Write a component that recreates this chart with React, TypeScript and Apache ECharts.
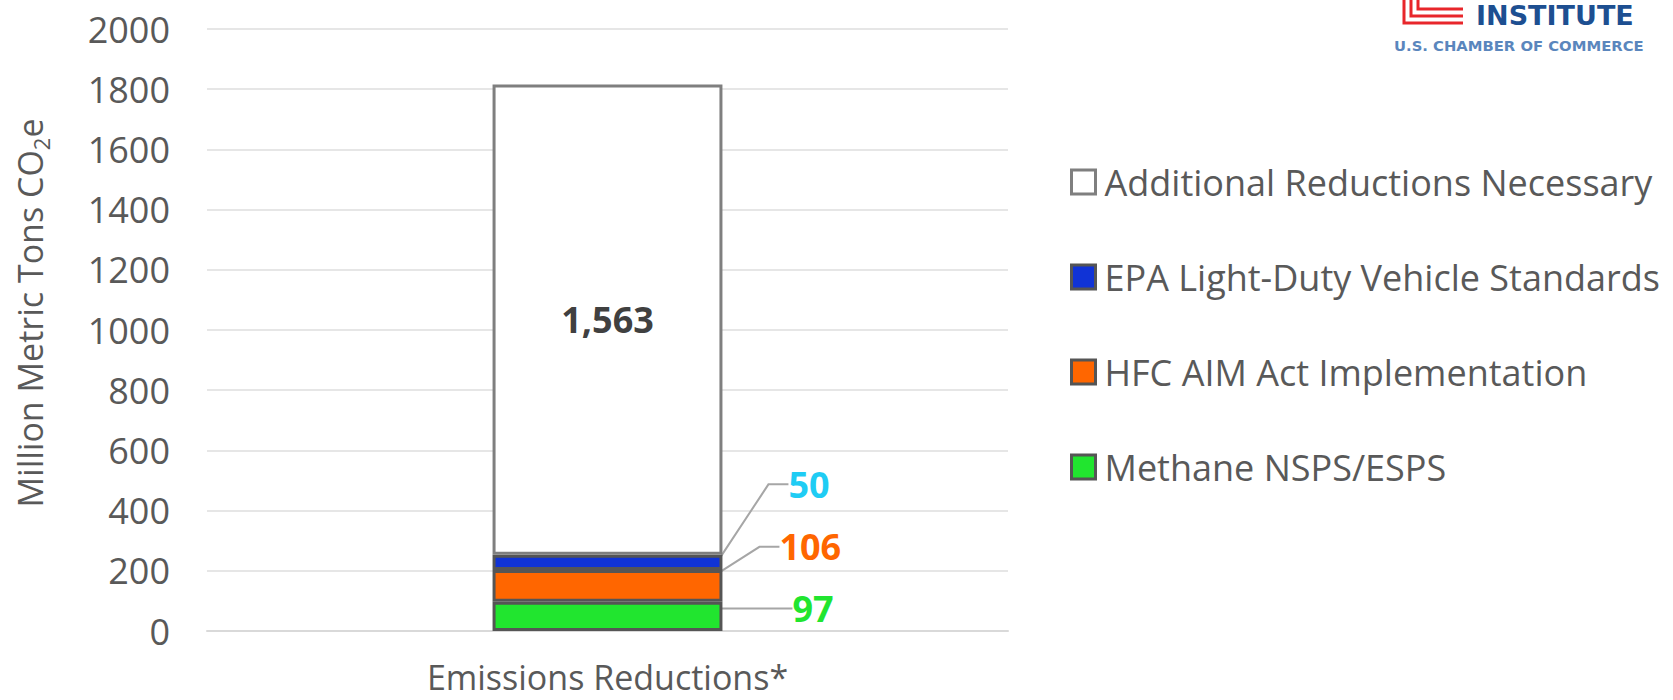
import React, { useEffect, useRef } from 'react';
import * as echarts from 'echarts';

const categories = ['Emissions Reductions*'];
const seriesNames = [
  'Methane NSPS/ESPS',
  'HFC AIM Act Implementation',
  'EPA Light-Duty Vehicle Standards',
  'Additional Reductions Necessary',
];
const methane = [97];
const hfc = [106];
const epa = [50];
const additional = [1563];
const legendOrder = [
  'Additional Reductions Necessary',
  'EPA Light-Duty Vehicle Standards',
  'HFC AIM Act Implementation',
  'Methane NSPS/ESPS',
];
const yMin = 0;
const yMax = 2000;
const yInterval = 200;

const FONT = "'Open Sans', sans-serif";
const GREY = '#595959';

export default function App() {
  const ref = useRef<HTMLDivElement>(null);

  useEffect(() => {
    if (!ref.current) return;
    const chart = echarts.init(ref.current, undefined, { renderer: 'svg' });

    const lineStyle = { color: '#A6A6A6', width: 2 };
    const smallLabel = (color: string) => ({
      show: true,
      position: 'right',
      color,
      fontSize: 36,
      fontWeight: 'bold',
      fontFamily: FONT,
    });

    const option: any = {
      animation: false,
      backgroundColor: '#ffffff',
      grid: { left: 207, right: 665, top: 29, bottom: 69, containLabel: false },
      legend: {
        orient: 'vertical',
        left: 1070,
        top: 164,
        padding: 0,
        itemWidth: 24,
        itemHeight: 24,
        itemGap: 59,
        icon: 'rect',
        data: legendOrder,
        itemStyle: { borderWidth: 3 },
        textStyle: { fontSize: 36, color: GREY, fontFamily: FONT, padding: [0, 0, 0, 4] },
      },
      xAxis: {
        type: 'category',
        data: categories,
        axisTick: { show: false },
        axisLine: { show: true, lineStyle: { color: '#D9D9D9', width: 2 } },
        axisLabel: { fontSize: 34, lineHeight: 32, color: GREY, fontFamily: FONT, margin: 30 },
      },
      yAxis: {
        type: 'value',
        min: yMin,
        max: yMax,
        interval: yInterval,
        axisLine: { show: false },
        axisTick: { show: false },
        axisLabel: {
          fontSize: 36,
          color: GREY,
          fontFamily: FONT,
          margin: 37,
          formatter: (v: number) => String(v),
        },
        splitLine: { lineStyle: { color: '#E6E6E6', width: 2 } },
      },
      series: [
        {
          name: seriesNames[0],
          type: 'bar',
          stack: 'total',
          barWidth: '28.7%',
          data: methane,
          itemStyle: { color: '#21E52F', borderColor: '#555555', borderWidth: 3 },
          label: smallLabel('#21E52F'),
          labelLayout: { dx: 65, dy: -8 },
          labelLine: { show: true, length2: 20, lineStyle },
        },
        {
          name: seriesNames[1],
          type: 'bar',
          stack: 'total',
          data: hfc,
          itemStyle: { color: '#FF6600', borderColor: '#555555', borderWidth: 3 },
          label: smallLabel('#FF6600'),
          labelLayout: { dx: 52, dy: -39 },
          labelLine: { show: true, length2: 20, lineStyle },
        },
        {
          name: seriesNames[2],
          type: 'bar',
          stack: 'total',
          data: epa,
          itemStyle: { color: '#1033D6', borderColor: '#555555', borderWidth: 3 },
          label: smallLabel('#1FCCF4'),
          labelLayout: { dx: 61, dy: -78 },
          labelLine: { show: true, length2: 20, lineStyle },
        },
        {
          name: seriesNames[3],
          type: 'bar',
          stack: 'total',
          data: additional,
          itemStyle: { color: '#FFFFFF', borderColor: '#7F7F7F', borderWidth: 3 },
          label: {
            show: true,
            position: 'inside',
            color: '#404040',
            fontSize: 36,
            fontWeight: 'bold',
            fontFamily: FONT,
            formatter: (p: any) => Number(p.value).toLocaleString('en-US'),
          },
        },
      ],
      graphic: [
        {
          type: 'text',
          x: 30,
          y: 313,
          rotation: Math.PI / 2,
          style: {
            text: '{a|Million Metric Tons CO}{sub|2}{a|e}',
            align: 'center',
            verticalAlign: 'middle',
            fill: GREY,
            rich: {
              a: { fontSize: 34, fontFamily: FONT, fill: GREY, lineHeight: 44 },
              sub: { fontSize: 22, fontFamily: FONT, fill: GREY, lineHeight: 22, verticalAlign: 'bottom' },
            },
          },
        },
        {
          type: 'polyline',
          shape: { points: [[1404, 0], [1404, 23], [1463, 23]] },
          style: { stroke: '#E8262B', lineWidth: 3, fill: 'none' },
        },
        {
          type: 'polyline',
          shape: { points: [[1411, 0], [1411, 16], [1463, 16]] },
          style: { stroke: '#E8262B', lineWidth: 3, fill: 'none' },
        },
        {
          type: 'polyline',
          shape: { points: [[1418, 0], [1418, 9], [1463, 9]] },
          style: { stroke: '#E8262B', lineWidth: 3, fill: 'none' },
        },
        {
          type: 'text',
          x: 1476,
          y: 2,
          style: {
            text: 'INSTITUTE',
            align: 'left',
            verticalAlign: 'top',
            fontSize: 27,
            fontWeight: 'bold',
            fontFamily: "'DejaVu Sans', sans-serif",
            fill: '#1D4F91',
          },
        },
        {
          type: 'text',
          x: 1394,
          y: 45,
          style: {
            text: 'U.S. CHAMBER OF COMMERCE',
            align: 'left',
            verticalAlign: 'middle',
            fontSize: 14.8,
            fontWeight: 'bold',
            fontFamily: "'DejaVu Sans', sans-serif",
            fill: '#5A86BD',
          },
        },
      ],
    };

    chart.setOption(option);
    return () => chart.dispose();
  }, []);

  return (
    <div
      ref={ref}
      style={{ position: 'fixed', left: 0, top: 0, width: '1673px', height: '700px', background: '#fff' }}
    />
  );
}
